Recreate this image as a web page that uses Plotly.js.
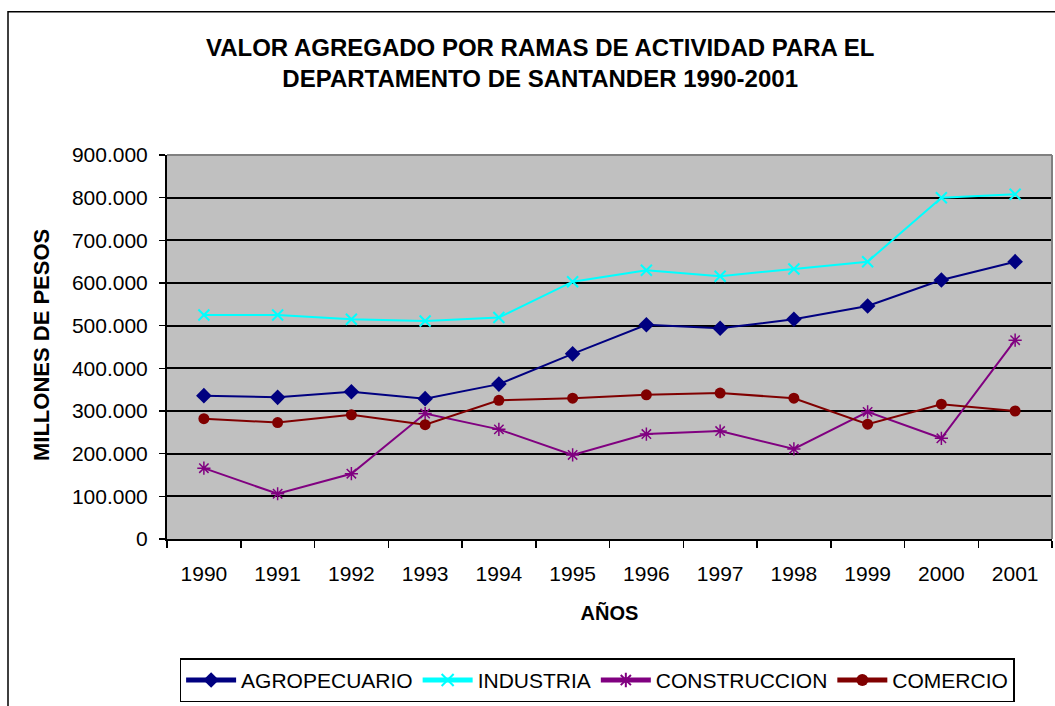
<!DOCTYPE html>
<html>
<head>
<meta charset="utf-8">
<script src="https://cdn.plot.ly/plotly-3.0.1.min.js"></script>
<style>html,body{margin:0;padding:0;background:#fff;}#chart{width:1055px;height:706px;}</style>
</head>
<body>
<div id="chart"></div>
<script>
var years = ['1990','1991','1992','1993','1994','1995','1996','1997','1998','1999','2000','2001'];
var agropecuario = [336000, 332000, 345000, 329000, 363000, 434000, 502000, 494000, 515000, 546000, 607000, 650000];
var industria = [525000, 525000, 515000, 511000, 519000, 603000, 630000, 616000, 633000, 650000, 800000, 808000];
var construccion = [166000, 106000, 153000, 294000, 257000, 197000, 246000, 253000, 211000, 298000, 236000, 466000];
var comercio = [282000, 273000, 291000, 268000, 325000, 330000, 338000, 342000, 330000, 269000, 316000, 300000];

var F = 'Liberation Sans, Arial, sans-serif';

function tr(name, y, color, symbol, size, mline) {
  return {
    type: 'scatter', mode: 'lines+markers', name: name,
    x: years, y: y,
    line: {color: color, width: 2},
    marker: {symbol: symbol, size: size, color: color, line: {color: color, width: mline}}
  };
}

var data = [
  tr('AGROPECUARIO', agropecuario, '#000080', 'diamond', 12, 0),
  tr('INDUSTRIA', industria, '#00FFFF', 'x-thin', 11, 2),
  tr('CONSTRUCCION', construccion, '#800080', 'asterisk', 11, 1.5),
  tr('COMERCIO', comercio, '#800000', 'circle', 11, 0)
];

var layout = {
  width: 1055, height: 706,
  margin: {l: 167, r: 3, t: 155, b: 165},
  paper_bgcolor: '#ffffff',
  plot_bgcolor: '#C0C0C0',
  separators: ',.',
  font: {family: F, size: 21, color: '#000'},
  title: {
    text: '<b>VALOR AGREGADO POR RAMAS DE ACTIVIDAD PARA EL<br>DEPARTAMENTO DE SANTANDER 1990-2001</b>',
    font: {family: F, size: 24, color: '#000'},
    xref: 'container', x: 0.512, xanchor: 'center',
    yref: 'container', y: 1 - 56/706, yanchor: 'top'
  },
  showlegend: true,
  legend: {
    orientation: 'h', x: 0.486, xanchor: 'center', y: (541-661)/386, yanchor: 'top',
    bordercolor: '#000', borderwidth: 1.5, bgcolor: '#fff',
    font: {family: F, size: 21, color: '#000'},
    itemsizing: 'constant', itemwidth: 50, tracegroupgap: 0
  },
  xaxis: {
    type: 'category', range: [-0.5, 11.5],
    showline: true, linecolor: '#000', linewidth: 2,
    ticks: 'outside', tickson: 'boundaries', ticklen: 7, tickwidth: 1.5, tickcolor: '#000',
    showgrid: false, zeroline: false,
    tickfont: {family: F, size: 21, color: '#000'},
    ticklabelstandoff: 15,
    title: {text: '<b>AÑOS</b>', font: {family: F, size: 20, color: '#000'}, standoff: 22}
  },
  yaxis: {
    range: [0, 900000], dtick: 100000, tickformat: ',d',
    showline: true, linecolor: '#000', linewidth: 2,
    ticks: 'outside', ticklen: 6, tickwidth: 1.5, tickcolor: '#000',
    showgrid: true, gridcolor: '#000', gridwidth: 2,
    zeroline: false,
    tickfont: {family: F, size: 21, color: '#000'},
    ticklabelstandoff: 7
  },
  shapes: [
    {type: 'rect', xref: 'paper', yref: 'paper', x0: (8-167)/885, x1: 1.2, y0: -0.6, y1: (541-11)/386,
     line: {color: '#000', width: 1.5}, fillcolor: 'rgba(0,0,0,0)', layer: 'below'},
    {type: 'line', xref: 'paper', yref: 'paper', x0: 0, x1: 1, y0: 1, y1: 1, line: {color: '#808080', width: 2}},
    {type: 'line', xref: 'paper', yref: 'paper', x0: 1, x1: 1, y0: 0, y1: 1, line: {color: '#808080', width: 2}}
  ],
  annotations: [
    {text: '<b>MILLONES DE PESOS</b>', xref: 'paper', yref: 'paper',
     x: (41-167)/885, y: (541-346)/386, xanchor: 'center', yanchor: 'middle',
     textangle: -90, showarrow: false, font: {family: F, size: 22, color: '#000'}}
  ]
};

Plotly.newPlot('chart', data, layout, {displayModeBar: false, staticPlot: true});
</script>
</body>
</html>
